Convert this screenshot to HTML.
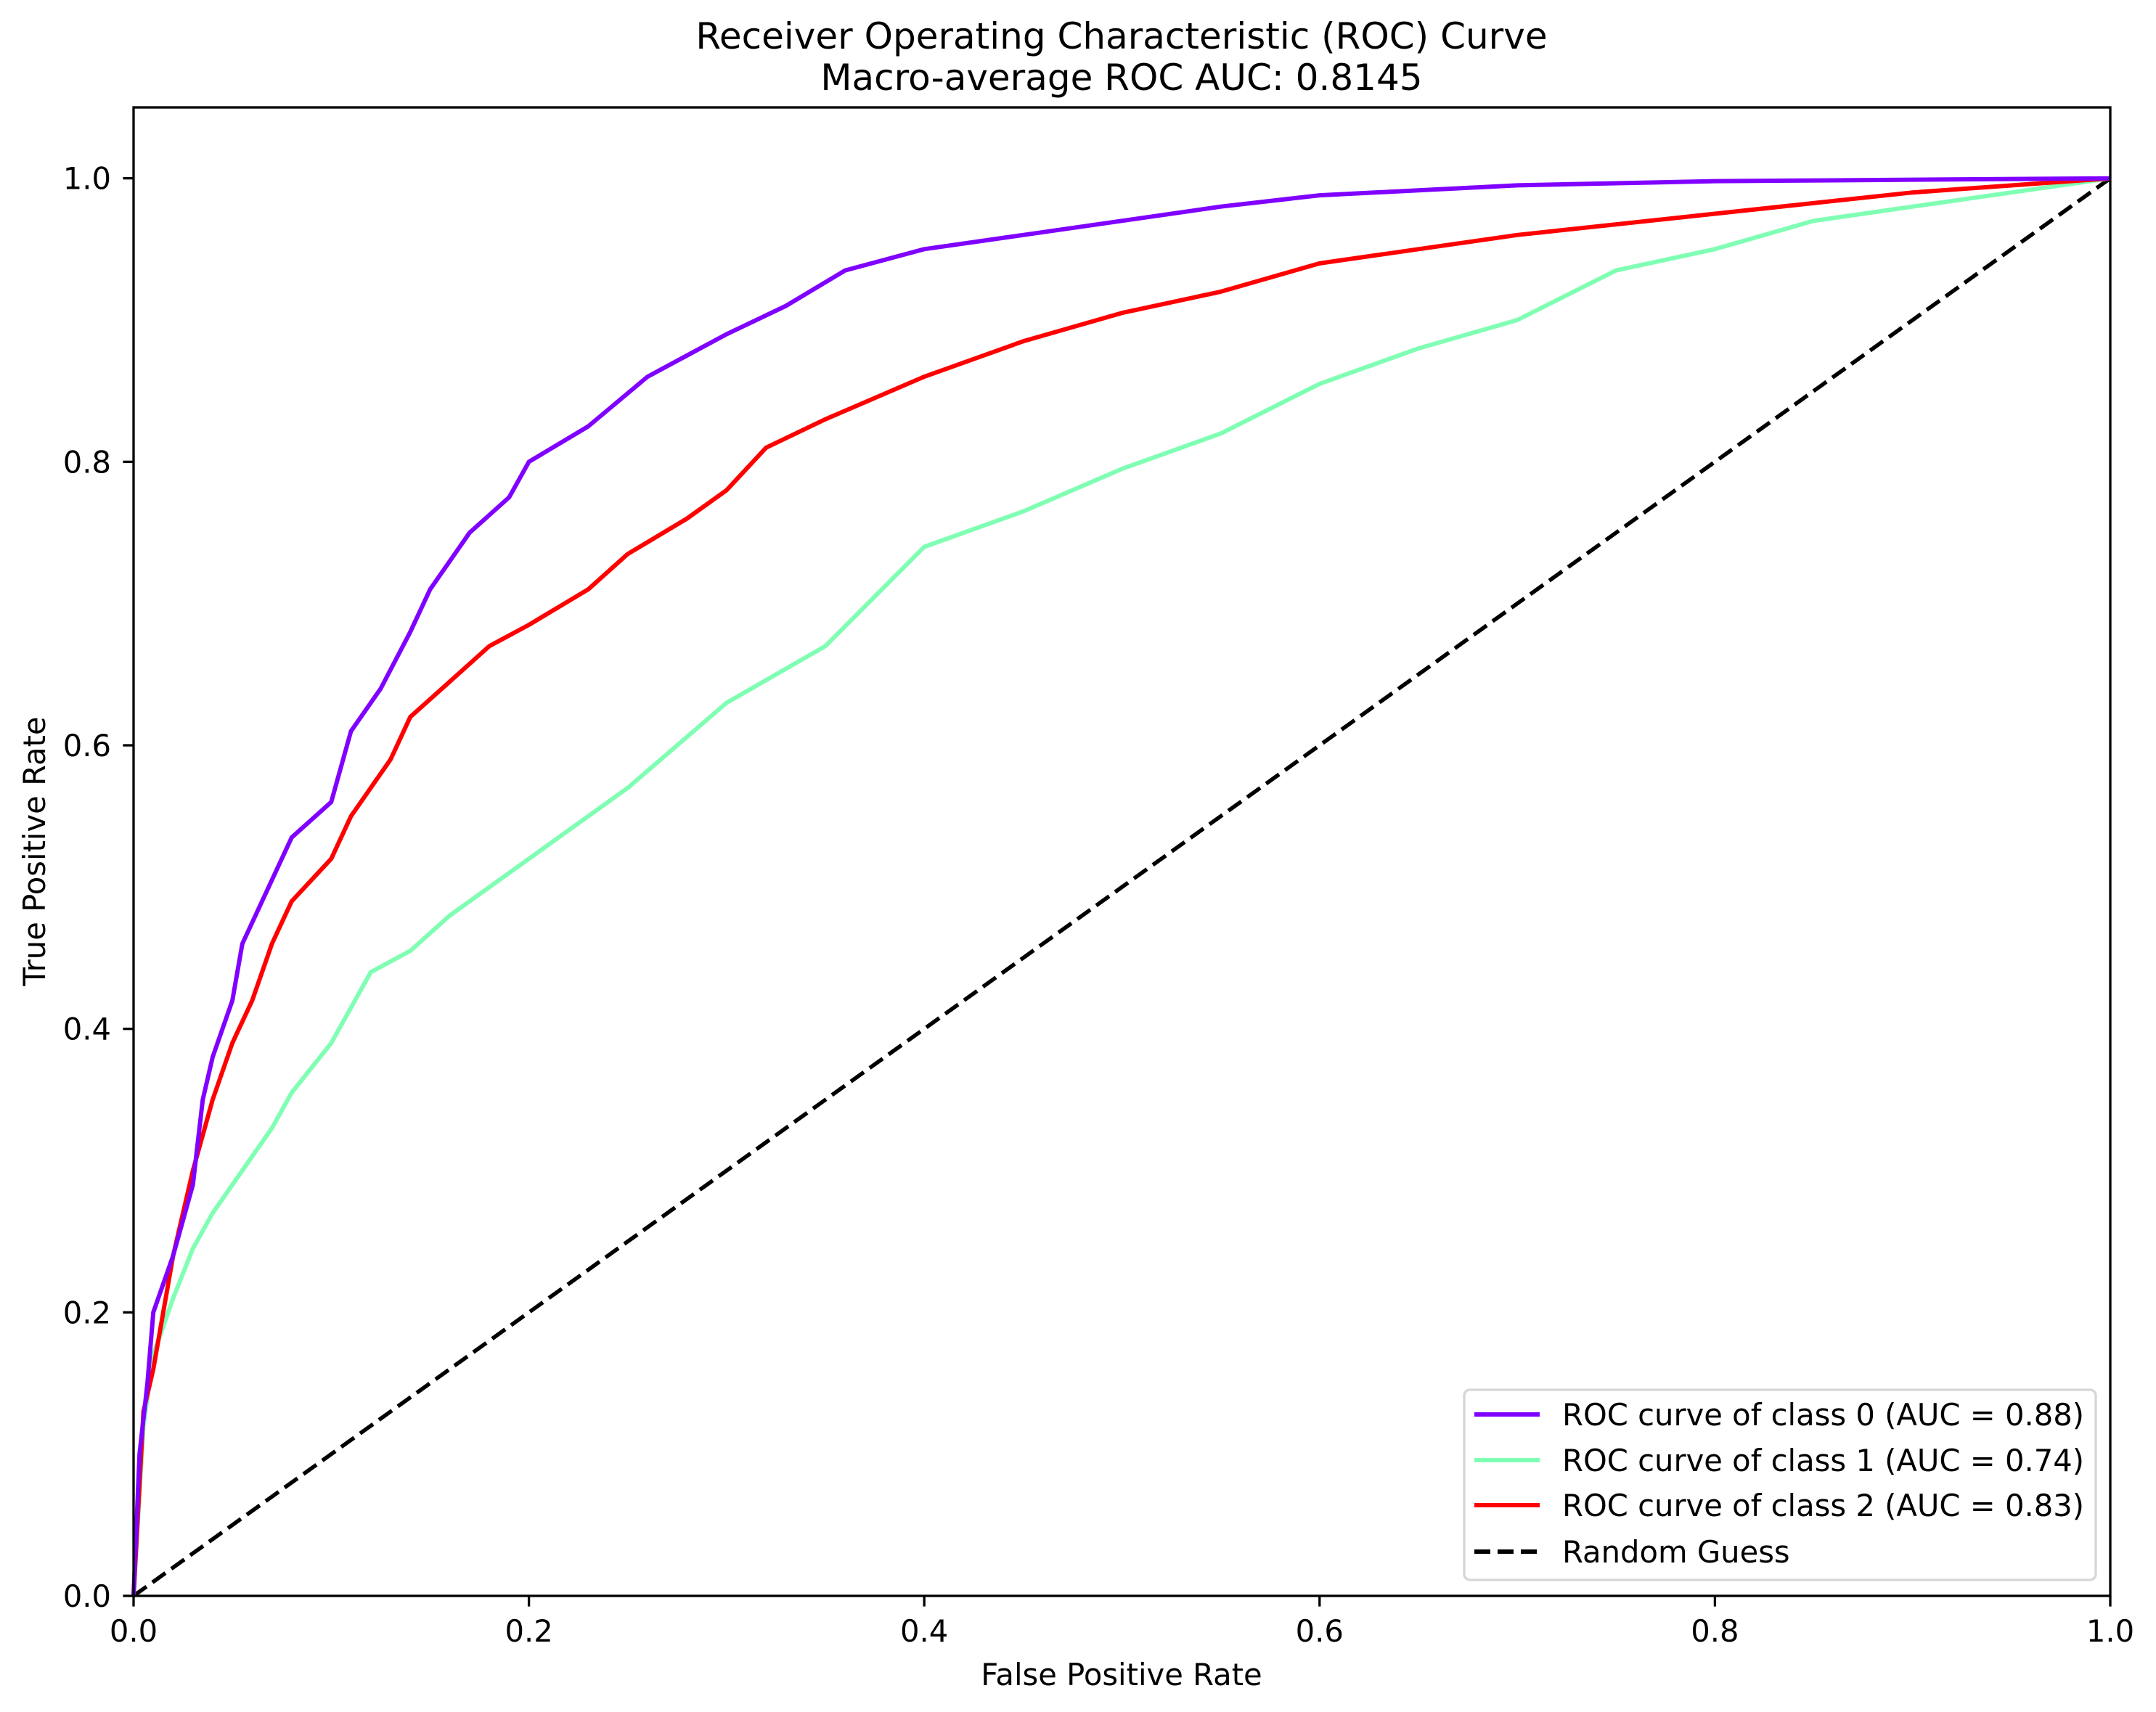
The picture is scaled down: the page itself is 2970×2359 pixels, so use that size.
<!DOCTYPE html>
<html><head><meta charset="utf-8"><style>
html,body{margin:0;padding:0;background:#fff;}
svg{display:block;font-family:"DejaVu Sans","Liberation Sans",sans-serif;}
</style></head><body>
<svg id="chart" width="2970" height="2359" viewBox="0 0 2970 2359" xmlns="http://www.w3.org/2000/svg">
<rect width="2970" height="2359" fill="#fff"/>
<text x="1545" y="67" font-size="50" text-anchor="middle">Receiver Operating Characteristic (ROC) Curve</text>
<text x="1545" y="124" font-size="50" text-anchor="middle">Macro-average ROC AUC: 0.8145</text>
<g id="plot"></g>
<g id="axes"></g>
<text x="1545" y="2322" font-size="41.7" text-anchor="middle">False Positive Rate</text>
<text x="62" y="1173" font-size="41.7" text-anchor="middle" transform="rotate(-90 62 1173)">True Positive Rate</text>
<g>
<rect x="2017" y="1915" width="870" height="262" rx="8" fill="#fff" fill-opacity="0.8" stroke="#d6d6d6" stroke-width="3.3"/>
<line x1="2031" y1="1949" x2="2121" y2="1949" stroke="#8000ff" stroke-width="6"/>
<text x="2152" y="1964" font-size="41.7">ROC curve of class 0 (AUC = 0.88)</text>
<line x1="2031" y1="2012" x2="2121" y2="2012" stroke="#80ffb4" stroke-width="6"/>
<text x="2152" y="2027" font-size="41.7">ROC curve of class 1 (AUC = 0.74)</text>
<line x1="2031" y1="2074" x2="2121" y2="2074" stroke="#ff0000" stroke-width="6"/>
<text x="2152" y="2089" font-size="41.7">ROC curve of class 2 (AUC = 0.83)</text>
<line x1="2031" y1="2138" x2="2121" y2="2138" stroke="#000" stroke-width="6" stroke-dasharray="22 10"/>
<text x="2152" y="2153" font-size="41.7">Random Guess</text>
</g>
</svg>
<script>
const fpr0=[0,0.003,0.007,0.01,0.02,0.03,0.035,0.04,0.05,0.055,0.065,0.08,0.1,0.11,0.125,0.14,0.15,0.17,0.19,0.2,0.23,0.26,0.28,0.3,0.33,0.36,0.4,0.45,0.5,0.55,0.6,0.7,0.8,1];
const tpr0=[0,0.1,0.15,0.2,0.24,0.29,0.35,0.38,0.42,0.46,0.49,0.535,0.56,0.61,0.64,0.68,0.71,0.75,0.775,0.8,0.825,0.86,0.875,0.89,0.91,0.935,0.95,0.96,0.97,0.98,0.988,0.995,0.998,1];
const fpr1=[0,0.005,0.01,0.02,0.03,0.04,0.05,0.07,0.08,0.1,0.12,0.14,0.16,0.2,0.25,0.3,0.35,0.4,0.45,0.5,0.55,0.6,0.65,0.7,0.75,0.8,0.85,0.9,0.95,1];
const tpr1=[0,0.12,0.17,0.21,0.245,0.27,0.29,0.33,0.355,0.39,0.44,0.455,0.48,0.52,0.57,0.63,0.67,0.74,0.765,0.795,0.82,0.855,0.88,0.9,0.935,0.95,0.97,0.98,0.99,1];
const fpr2=[0,0.005,0.01,0.02,0.03,0.04,0.05,0.06,0.07,0.08,0.1,0.11,0.13,0.14,0.16,0.18,0.2,0.23,0.25,0.28,0.3,0.32,0.35,0.4,0.45,0.5,0.55,0.6,0.65,0.7,0.8,0.9,1];
const tpr2=[0,0.13,0.16,0.24,0.3,0.35,0.39,0.42,0.46,0.49,0.52,0.55,0.59,0.62,0.645,0.67,0.685,0.71,0.735,0.76,0.78,0.81,0.83,0.86,0.885,0.905,0.92,0.94,0.95,0.96,0.975,0.99,1];
const tickVals=[0,0.2,0.4,0.6,0.8,1.0];
const tickLabels=["0.0","0.2","0.4","0.6","0.8","1.0"];
const L=184,R=2907,T=148,B=2199;
const xs=v=>L+v*(R-L);
const ys=v=>B-v/1.05*(B-T);
const NS='http://www.w3.org/2000/svg';
const plot=document.getElementById('plot'),axes=document.getElementById('axes');
function mk(tag,attrs,parent){const e=document.createElementNS(NS,tag);for(const k in attrs)e.setAttribute(k,attrs[k]);parent.appendChild(e);return e;}
const rl=mk('line',{x1:xs(0),y1:ys(0),x2:xs(1),y2:ys(1),stroke:'#000','stroke-width':5.5,'stroke-dasharray':'22 10'},plot);


function curve(fx,ty,color,name){
 let d='';for(let i=0;i<fx.length;i++)d+=(i?'L':'M')+xs(fx[i]).toFixed(1)+','+ys(ty[i]).toFixed(1);
 const p=mk('path',{d:d,fill:'none',stroke:color,'stroke-width':6,'stroke-linejoin':'round'},plot);
 
 
}
curve(fpr1,tpr1,'#80ffb4','roc-curve-class-1');
curve(fpr2,tpr2,'#ff0000','roc-curve-class-2');
curve(fpr0,tpr0,'#8000ff','roc-curve-class-0');
const fr=mk('rect',{x:L,y:T,width:R-L,height:B-T,fill:'none',stroke:'#000','stroke-width':3.3},axes);


tickVals.forEach((v,i)=>{
 const a=mk('line',{x1:xs(v),y1:B,x2:xs(v),y2:B+14.6,stroke:'#000','stroke-width':3.3},axes);
 
 
 const t=mk('text',{x:xs(v),y:2262,'font-size':41.7,'text-anchor':'middle'},axes);t.textContent=tickLabels[i];
 
 
 const b=mk('line',{x1:L-14.6,y1:ys(v),x2:L,y2:ys(v),stroke:'#000','stroke-width':3.3},axes);
 
 
 const u=mk('text',{x:153,y:ys(v)+15,'font-size':41.7,'text-anchor':'end'},axes);u.textContent=tickLabels[i];
 
 
});
</script>
</body></html>
